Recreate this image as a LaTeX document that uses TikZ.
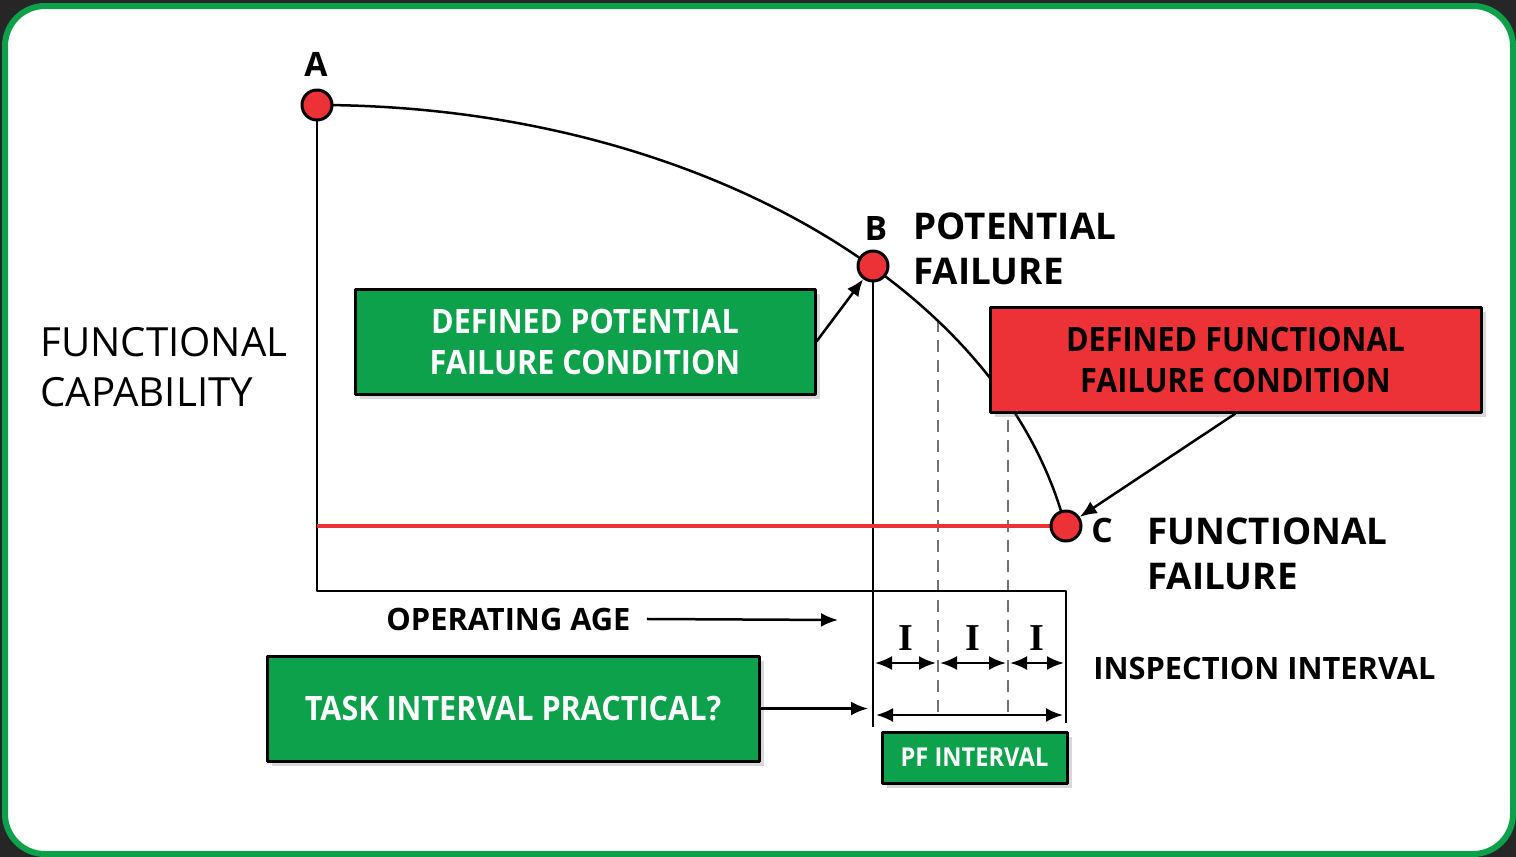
\documentclass[tikz,border=0pt]{standalone}
\usepackage{fontspec}
\setmainfont{Open Sans}
\newfontfamily\boxfont{Open Sans}[FakeStretch=0.91]
\newfontfamily\serifI{Liberation Serif}
\usetikzlibrary{arrows.meta}
\usetikzlibrary{shadows}
\definecolor{pfgreen}{RGB}{12,161,74}
\definecolor{pfred}{RGB}{237,50,55}
\definecolor{pfdark}{RGB}{38,38,38}
\definecolor{pfgray}{RGB}{115,115,115}

\begin{document}
\begin{tikzpicture}[x=0.5pt,y=-0.5pt,>={Latex[length=8.5pt,width=7pt]},line join=bevel,
    dot/.style={circle,draw,fill=pfred,line width=1.5pt,minimum size=15pt,inner sep=0pt},
    boxtext/.style={font=\boxfont\bfseries\fontsize{16.8}{20.5}\selectfont,align=center},
    greenbox/.style={rectangle,draw,line width=1.5pt,fill=pfgreen,text=white,boxtext,
        drop shadow={shadow xshift=2.5pt,shadow yshift=-2.5pt,opacity=0.3}},
    redbox/.style={greenbox,fill=pfred,text=black},
    letter/.style={font=\bfseries\fontsize{16.8}{16.8}\selectfont,inner sep=0pt},
    biglabel/.style={font=\bfseries\fontsize{18.4}{22.75}\selectfont,align=left,inner sep=0pt},
    axislabel/.style={font=\bfseries\fontsize{15.4}{15.4}\selectfont,inner ysep=0pt},
    ilabel/.style={above,inner sep=0pt,yshift=5.5pt,font=\serifI\bfseries\fontsize{19}{19}\selectfont},
    line/.style={line width=1.25pt},
    gridline/.style={pfgray,line width=1.4pt,dash pattern=on 6pt off 4pt}]
        %
        \useasboundingbox (0,0) rectangle (1516,857);
        \fill[pfdark] (0,0) rectangle (1516,857);
        \draw[pfgreen,line width=3pt,fill=white,rounded corners=20pt] (5,6) rectangle (1513,854);
        %
        \coordinate (A) at (317,105);
        \coordinate (B) at (873,266);
        \coordinate (C) at (1066,526);
        \coordinate (O) at (317,591);
        \coordinate (Cfoot) at (1066,591);
        \coordinate (Bend) at (873,727);
        \coordinate (Cend) at (1066,723);
        \coordinate (redstart) at (317,526);
        \coordinate (d1top) at (938,320);
        \coordinate (d1bot) at (938,712);
        \coordinate (d2top) at (1008,400);
        \coordinate (d2bot) at (1008,712);
        %
        \draw[gridline] (d1top) -- (d1bot);
        \draw[gridline] (d2top) -- (d2bot);
        \draw[line] (A) arc[start angle=270,end angle=350.2,x radius=760,y radius=510];
        \draw[line] (A) -- (O) -- (Cfoot) -- (Cend);
        \draw[line] (B) -- (Bend);
        \draw[pfred,line width=1.6pt] (redstart) -- (C);
        %
        \node[dot] (dotA) at (A) {};
        \node[dot] (dotB) at (B) {};
        \node[dot] (dotC) at (C) {};
        \node[letter,anchor=base] (labA) at (316,76) {A};
        \node[letter,anchor=base] (labB) at (876,240) {B};
        \node[letter,anchor=base] (labC) at (1102,542) {C};
        \node[biglabel,anchor=north west] (potential) at (913,212) {POTENTIAL\\FAILURE};
        \node[biglabel,anchor=north west] (functional) at (1147,517) {FUNCTIONAL\\FAILURE};
        \node[font=\fontsize{20.1}{25}\selectfont,align=left,inner sep=0pt,anchor=north west] (capability) at (40,327) {FUNCTIONAL\\CAPABILITY};
        %
        \node[greenbox,minimum width=230pt,minimum height=52.5pt] (potbox) at (585,341.5) {DEFINED POTENTIAL\\FAILURE CONDITION};
        \node[redbox,minimum width=245.5pt,minimum height=52.5pt] (funbox) at (1235.5,359.5) {DEFINED FUNCTIONAL\\FAILURE CONDITION};
        \node[greenbox,minimum width=246pt,minimum height=52.5pt] (taskbox) at (513,708.5) {TASK INTERVAL PRACTICAL?};
        \node[greenbox,font=\boxfont\bfseries\fontsize{13}{13}\selectfont,minimum width=92.5pt,minimum height=25.5pt] (pfbox) at (974.5,757.5) {PF INTERVAL};
        %
        \draw[line,->] (potbox.east) -- (dotB);
        \draw[line,->] (funbox.south) -- (dotC);
        \coordinate (taskend) at (868,708.5);
        \draw[line,->] (taskbox.east) -- (taskend);
        %
        \node[axislabel,anchor=base west,inner xsep=8pt] (age) at (370,630) {OPERATING AGE};
        \coordinate (ageend) at (838,620);
        \draw[line,->] (age.east) -- (ageend);
        \node[axislabel,anchor=base west,inner xsep=0pt] (inspection) at (1093,679) {INSPECTION INTERVAL};
        %
        \coordinate (i0) at (873,663);
        \coordinate (i1) at (938,663);
        \coordinate (i2) at (1008,663);
        \coordinate (i3) at (1066,663);
        \foreach \p/\q in {i0/i1,i1/i2,i2/i3}
            \draw[line,<->,shorten <=1pt,shorten >=1pt] (\p) -- node[ilabel] {I} (\q);
        \coordinate (pf0) at (873,715);
        \coordinate (pf1) at (1066,715);
        \draw[line,<->,shorten <=1.5pt,shorten >=1.5pt] (pf0) -- (pf1);
        %
\end{tikzpicture}
\end{document}
